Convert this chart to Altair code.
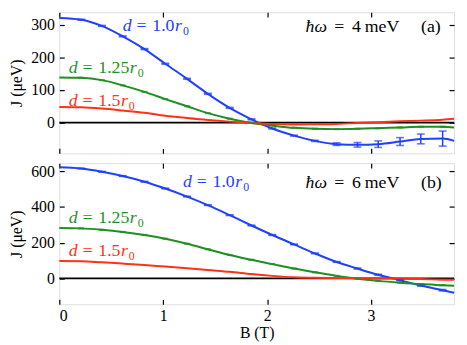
import altair as alt
import pandas as pd

# ---------------- data ----------------
B = [0.0, 0.21, 0.41, 0.61, 0.82, 1.02, 1.23, 1.43, 1.64, 1.85, 2.05,
     2.26, 2.46, 2.67, 2.87, 3.07, 3.28, 3.48, 3.69, 3.8]

# panel (a): hbar*omega = 4 meV
a_blue = [320, 315, 296, 264, 225, 180, 134, 88, 45, 10, -18,
          -40, -56, -66, -68, -66, -58, -50, -49, -56]
a_blue_err = [0, 1.5, 1.5, 1.5, 1.5, 1.5, 1.5, 1.5, 1.5, 1.5, 1.5,
              1.5, 2, 4, 7, 10, 12, 15, 23, 0]
a_green = [138, 137, 130, 114, 94, 72, 50, 29, 12, -1, -9,
           -16, -19, -20, -19, -17, -15, -13, -13, -15]
a_red = [48, 47, 43, 37, 30, 21, 14, 8, 3, -1, -4,
         -6, -5, -4, -1, 1, 4, 6, 9, 12]

# panel (b): hbar*omega = 6 meV
b_blue = [622, 615, 597, 573, 541, 503, 458, 410, 354, 296, 243,
          190, 140, 92, 55, 20, -10, -40, -66, -80]
b_blue_err = [0, 2, 2, 2, 2, 2, 2, 2, 2, 2, 2,
              2, 2, 2, 3, 3, 3, 4, 4, 0]
b_green = [282, 280, 272, 260, 243, 222, 194, 163, 131, 104, 80,
           55, 34, 14, -2, -14, -24, -32, -38, -41]
b_red = [97, 96, 90, 83, 75, 66, 57, 47, 37, 24, 14,
         6, 3, 2, 1, 0, -2, -4, -7, -8]

x_ticks = [0, 1, 2, 3]
a_ticks = [0, 100, 200, 300]
b_ticks = [0, 200, 400, 600]
a_domain = [-94, 338]
b_domain = [-145, 645]

labels_d = ["1.0", "1.25", "1.5"]
energy = ["4", "6"]
panel_tag = ["(a)", "(b)"]

# ---------------- style ----------------
BLUE = "#2040ff"
GREEN = "#1f901f"
RED = "#ff3218"
FONT = "Liberation Serif"
W, H = 400, 143


def text_piece(b, j, txt, color, dx=0, dy=0, size=18, italic=False):
    df = pd.DataFrame({"B": [b], "J": [j], "t": [txt]})
    kw = dict(align="left", baseline="alphabetic", font=FONT, fontSize=size,
              color=color, dx=dx, dy=dy)
    if italic:
        kw["fontStyle"] = "italic"
    return alt.Chart(df).mark_text(**kw)


def d_label(b, j, val, color, xs, ys):
    r_dx = 62 if len(val) > 3 else 53
    parts = [
        text_piece(b, j, "d", color, 0, 0, 18, True),
        text_piece(b, j, "=", color, 14, 0, 18),
        text_piece(b, j, val, color, 30, 0, 18),
        text_piece(b, j, "r", color, r_dx, 0, 18, True),
        text_piece(b, j, "0", color, r_dx + 8, 4, 12),
    ]
    return [p.encode(x=alt.X("B:Q", scale=xs, axis=None),
                     y=alt.Y("J:Q", scale=ys, axis=None),
                     text="t:N") for p in parts]


def panel(blue, err, green, red, dom, yt, bottom, idx, ann):
    xs = alt.Scale(domain=[0, 3.8], nice=False, zero=False)
    ys = alt.Scale(domain=dom, nice=False, zero=False)
    df = pd.DataFrame({"B": B, "blue": blue, "green": green, "red": red,
                       "lo": [v - e for v, e in zip(blue, err)],
                       "hi": [v + e for v, e in zip(blue, err)]})
    marks = df.iloc[1:-1]

    ax_common = dict(tickSize=5, offset=-5, domain=False, grid=False,
                     tickColor="black", tickWidth=1.2, labelFont=FONT,
                     labelFontSize=16, labelColor="black", titleFont=FONT,
                     titleFontSize=16, titleFontWeight="normal",
                     titleColor="black")
    x_bottom = alt.Axis(orient="bottom", values=x_ticks, labels=bottom,
                        labelPadding=3, titlePadding=2,
                        title="B (T)" if bottom else None, **ax_common)
    y_left = alt.Axis(orient="left", values=yt, labelPadding=5,
                      titlePadding=6, title="J (μeV)", format="d", **ax_common)
    x_top = alt.Axis(orient="top", values=x_ticks, labels=False, title=None,
                     **ax_common)
    y_right = alt.Axis(orient="right", values=yt, labels=False, title=None,
                       **ax_common)

    zero = alt.Chart(pd.DataFrame({"J": [0]})).mark_rule(
        color="black", strokeWidth=1.6).encode(
        y=alt.Y("J:Q", scale=ys, axis=None))

    base = alt.Chart(df)
    l_blue = base.mark_line(color=BLUE, strokeWidth=2, interpolate="monotone").encode(
        x=alt.X("B:Q", scale=xs, axis=x_bottom),
        y=alt.Y("blue:Q", scale=ys, axis=y_left))
    l_green = base.mark_line(color=GREEN, strokeWidth=2, interpolate="monotone").encode(
        x=alt.X("B:Q", scale=xs, axis=x_top),
        y=alt.Y("green:Q", scale=ys, axis=y_right))
    l_red = base.mark_line(color=RED, strokeWidth=2, interpolate="monotone").encode(
        x=alt.X("B:Q", scale=xs, axis=None),
        y=alt.Y("red:Q", scale=ys, axis=None))

    mb = alt.Chart(marks)
    eb = mb.mark_rule(color=BLUE, strokeWidth=1.5).encode(
        x=alt.X("B:Q", scale=xs, axis=None),
        y=alt.Y("lo:Q", scale=ys, axis=None), y2="hi:Q")
    cap_lo = mb.mark_tick(color=BLUE, orient="horizontal", size=8, thickness=1.6).encode(
        x=alt.X("B:Q", scale=xs, axis=None),
        y=alt.Y("lo:Q", scale=ys, axis=None))
    cap_hi = mb.mark_tick(color=BLUE, orient="horizontal", size=8, thickness=1.6).encode(
        x=alt.X("B:Q", scale=xs, axis=None),
        y=alt.Y("hi:Q", scale=ys, axis=None))
    cap_g = mb.mark_tick(color=GREEN, orient="horizontal", size=6, thickness=2.2).encode(
        x=alt.X("B:Q", scale=xs, axis=None),
        y=alt.Y("green:Q", scale=ys, axis=None))

    layers = [zero, l_blue, l_green, l_red, eb, cap_lo, cap_hi, cap_g]
    (bb, bj), (gb, gj), (rb, rj), (eb_b, ej) = ann
    layers += d_label(bb, bj, labels_d[0], BLUE, xs, ys)
    layers += d_label(gb, gj, labels_d[1], GREEN, xs, ys)
    layers += d_label(rb, rj, labels_d[2], RED, xs, ys)
    for p in [text_piece(eb_b, ej, "ħω", "black", 0, 0, 18, True),
              text_piece(eb_b, ej, "=", "black", 29, 0, 18),
              text_piece(eb_b, ej, energy[idx], "black", 47, 0, 18),
              text_piece(eb_b, ej, "meV", "black", 60, 0, 18),
              text_piece(eb_b, ej, panel_tag[idx], "black", 117, 0, 18)]:
        layers.append(p.encode(x=alt.X("B:Q", scale=xs, axis=None),
                               y=alt.Y("J:Q", scale=ys, axis=None), text="t:N"))

    return alt.layer(*layers).resolve_axis(x="independent", y="independent").properties(
        width=W, height=H)


top = panel(a_blue, a_blue_err, a_green, a_red, a_domain, a_ticks, False, 0,
            [(0.61, 280), (0.09, 151), (0.09, 51), (2.37, 278)])
bot = panel(b_blue, b_blue_err, b_green, b_red, b_domain, b_ticks, True, 1,
            [(1.19, 509), (0.09, 309), (0.09, 126), (2.37, 505)])

chart = alt.vconcat(top, bot, spacing=6).properties(
    padding={"left": 0, "top": 0, "right": 0, "bottom": 0}
).configure_view(stroke="black", strokeWidth=2.5).configure(font=FONT)

chart.save("out.html", embed_options={"renderer": "svg", "actions": False})
